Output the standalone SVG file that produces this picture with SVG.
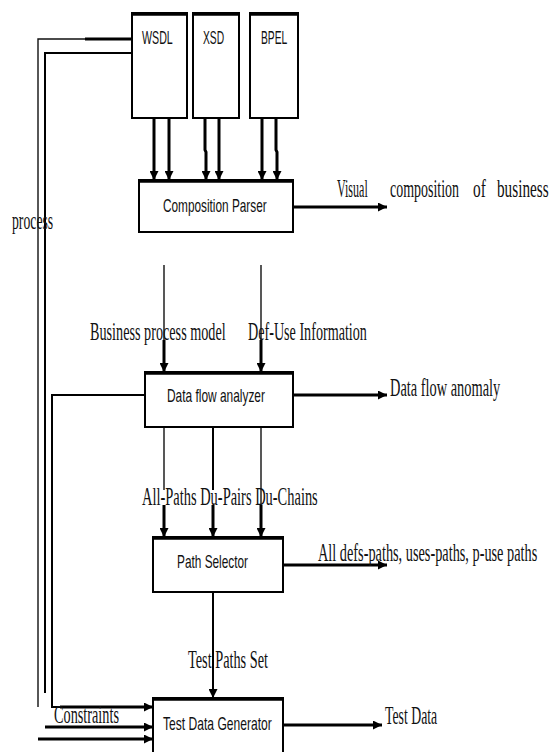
<svg xmlns="http://www.w3.org/2000/svg" width="551" height="752" viewBox="0 0 551 752">
<style>
.box{fill:#fff;stroke:#000;stroke-width:2}
.top{stroke:#000;stroke-width:3.5}
.lbl{font-family:"Liberation Sans",Arial,sans-serif;font-size:19px;fill:#111}
.ser{font-family:"Liberation Serif","Times New Roman",serif;font-size:25px;fill:#111}
.thin{stroke:#111;stroke-width:1.4;fill:none}
.mid{stroke:#000;stroke-width:2;fill:none}
.thk{stroke:#000;stroke-width:3;fill:none}
</style>
<defs>
<marker id="ah" viewBox="0 0 10 10" refX="10" refY="5" markerWidth="9" markerHeight="9" markerUnits="userSpaceOnUse" orient="auto"><path d="M0,0 L10,5 L0,10 z" fill="#000"/></marker>
</defs>
<rect width="551" height="752" fill="#fff"/>
<g id="connectors">
<path class="thin" d="M132,39 H38 V707"/>
<path class="thk" d="M132,39 H85"/>
<path class="mid" d="M132,53 H45 V693"/>
<path class="thk" d="M154,118 V180" marker-end="url(#ah)"/>
<path class="thk" d="M169,118 V180" marker-end="url(#ah)"/>
<path class="thk" d="M205,118 V150 L206,152 V180" marker-end="url(#ah)"/>
<path class="thk" d="M219,118 V180" marker-end="url(#ah)"/>
<path class="thk" d="M262,118 V180" marker-end="url(#ah)"/>
<path class="thk" d="M276,118 V150 L277,152 V180" marker-end="url(#ah)"/>
<path class="thk" d="M293,207 H387" marker-end="url(#ah)"/>
<path class="thin" d="M164,265 V345"/>
<path class="thin" d="M261,265 V345"/>
<path class="thk" d="M164,340 V372" marker-end="url(#ah)"/>
<path class="thk" d="M261,340 V372" marker-end="url(#ah)"/>
<path class="thk" d="M293,395 H387" marker-end="url(#ah)"/>
<path class="mid" d="M145,395 H52 V707 H153" marker-end="url(#ah)"/>
<path class="thk" d="M60,707 H153"/>
<path class="thin" d="M164,427 V490"/>
<path class="mid" d="M213,427 V490"/>
<path class="thin" d="M261,427 V505"/>
<path class="thk" d="M164,505 V537" marker-end="url(#ah)"/>
<path class="thk" d="M213,505 V537" marker-end="url(#ah)"/>
<path class="thk" d="M261,505 V537" marker-end="url(#ah)"/>
<path class="thk" d="M283,565 H387" marker-end="url(#ah)"/>
<path class="mid" d="M213,592 V698" marker-end="url(#ah)"/>
<path class="thk" d="M45,727 H153" marker-end="url(#ah)"/>
<path class="thk" d="M38,739 H153" marker-end="url(#ah)"/>
<path class="thk" d="M283,725 H382" marker-end="url(#ah)"/>
</g>
<g id="wsdl"><rect class="box" x="132" y="13" width="55" height="105"/><line class="top" x1="131" y1="14" x2="188" y2="14"/><text class="lbl" transform="translate(142,44) scale(0.64,1)" textLength="48" lengthAdjust="spacingAndGlyphs">WSDL</text></g>
<g id="xsd"><rect class="box" x="193" y="13" width="46" height="105"/><line class="top" x1="192" y1="14" x2="240" y2="14"/><text class="lbl" transform="translate(203,44) scale(0.64,1)" textLength="33" lengthAdjust="spacingAndGlyphs">XSD</text></g>
<g id="bpel"><rect class="box" x="250" y="13" width="48" height="105"/><line class="top" x1="249" y1="14" x2="299" y2="14"/><text class="lbl" transform="translate(261,44) scale(0.64,1)" textLength="41" lengthAdjust="spacingAndGlyphs">BPEL</text></g>
<g id="composition-parser"><rect class="box" x="139" y="180" width="154" height="52"/><line class="top" x1="138" y1="181" x2="294" y2="181"/><text class="lbl" transform="translate(163,212) scale(0.64,1)" textLength="162" lengthAdjust="spacingAndGlyphs">Composition Parser</text></g>
<g id="data-flow-analyzer"><rect class="box" x="145" y="372" width="148" height="55"/><line class="top" x1="144" y1="373" x2="294" y2="373"/><text class="lbl" transform="translate(167,402) scale(0.64,1)" textLength="153" lengthAdjust="spacingAndGlyphs">Data flow analyzer</text></g>
<g id="path-selector"><rect class="box" x="153" y="537" width="130" height="55"/><line class="top" x1="152" y1="538" x2="284" y2="538"/><text class="lbl" transform="translate(177,568) scale(0.64,1)" textLength="111" lengthAdjust="spacingAndGlyphs">Path Selector</text></g>
<g id="test-data-generator"><rect class="box" x="153" y="698" width="130" height="60"/><line class="top" x1="152" y1="699" x2="284" y2="699"/><text class="lbl" transform="translate(163,730) scale(0.64,1)" textLength="170" lengthAdjust="spacingAndGlyphs">Test Data Generator</text></g>
<g id="labels">
<text class="ser" transform="translate(337,197) scale(0.58,1)" textLength="53" lengthAdjust="spacingAndGlyphs">Visual</text>
<text class="ser" transform="translate(390,197) scale(0.58,1)" textLength="119" lengthAdjust="spacingAndGlyphs">composition</text>
<text class="ser" transform="translate(473,197) scale(0.58,1)" textLength="22" lengthAdjust="spacingAndGlyphs">of</text>
<text class="ser" transform="translate(497,197) scale(0.58,1)" textLength="89" lengthAdjust="spacingAndGlyphs">business</text>
<text class="ser" transform="translate(12,229) scale(0.58,1)" textLength="71" lengthAdjust="spacingAndGlyphs">process</text>
<text class="ser" transform="translate(90,340) scale(0.58,1)" textLength="234" lengthAdjust="spacingAndGlyphs">Business process model</text>
<text class="ser" transform="translate(248,340) scale(0.58,1)" textLength="205" lengthAdjust="spacingAndGlyphs">Def-Use Information</text>
<text class="ser" transform="translate(390,396) scale(0.58,1)" textLength="190" lengthAdjust="spacingAndGlyphs">Data flow anomaly</text>
<text class="ser" transform="translate(142,505) scale(0.58,1)" textLength="303" lengthAdjust="spacingAndGlyphs">All-Paths Du-Pairs Du-Chains</text>
<text class="ser" transform="translate(318,561) scale(0.58,1)" textLength="378" lengthAdjust="spacingAndGlyphs">All defs-paths, uses-paths, p-use paths</text>
<text class="ser" transform="translate(188,668) scale(0.58,1)" textLength="138" lengthAdjust="spacingAndGlyphs">Test Paths Set</text>
<text class="ser" transform="translate(54,723) scale(0.58,1)" textLength="112" lengthAdjust="spacingAndGlyphs">Constraints</text>
<text class="ser" transform="translate(385,724) scale(0.58,1)" textLength="90" lengthAdjust="spacingAndGlyphs">Test Data</text>
</g>
</svg>
